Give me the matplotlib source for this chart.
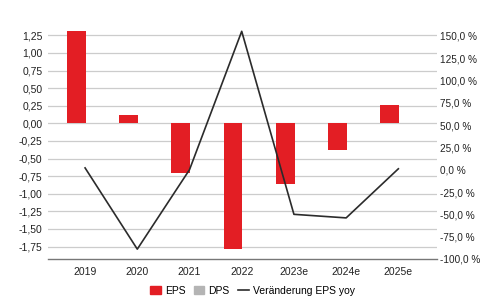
import numpy as np
import matplotlib.pyplot as plt
from matplotlib.lines import Line2D
from matplotlib.patches import Patch

plt.rcParams['font.family'] = ['Liberation Sans', 'DejaVu Sans']

# Data
years = ['2019', '2020', '2021', '2022', '2023e', '2024e', '2025e']
eps = [1.31, 0.12, -0.70, -1.79, -0.86, -0.38, 0.26]
dps = [0, 0, 0, 0, 0, 0, 0]
eps_yoy = [2, -89, 0, 155, -50, -54, 1]

left_ticks = [1.25, 1.00, 0.75, 0.50, 0.25, 0.00, -0.25, -0.50, -0.75,
              -1.00, -1.25, -1.50, -1.75]
right_ticks = [150, 125, 100, 75, 50, 25, 0, -25, -50, -75, -100]

red = '#e31e24'
grey = '#b4b4b4'
x = np.arange(len(years))

fig = plt.figure(figsize=(4.81, 2.98), dpi=100)
ax = fig.add_axes([0.0998, 0.131, 0.8087, 0.775])

ax.bar(x - 0.165, eps, width=0.36, color=red, zorder=2)
ax.bar(x + 0.2, dps, width=0.36, color=grey, zorder=2)

ax.set_xlim(-0.71, 6.74)
ax.set_ylim(-1.927, 1.354)
ax.set_yticks(left_ticks)
ax.set_yticklabels([f'{v:.2f}'.replace('.', ',') for v in left_ticks])
ax.yaxis.grid(True, color='#cccccc', linewidth=0.9, zorder=0)
ax.set_axisbelow(True)
ax.set_xticks(x)
ax.set_xticklabels(years)
ax.tick_params(axis='both', length=0, labelsize=7.5, colors='#222222')
ax.tick_params(axis='x', pad=5.5)
ax.tick_params(axis='y', pad=4)
for s in ['top', 'right', 'left']:
    ax.spines[s].set_visible(False)
ax.spines['bottom'].set_color('#777777')
ax.spines['bottom'].set_linewidth(1.0)

ax2 = ax.twinx()
ax2.plot(x, eps_yoy, color='#2b2b2b', linewidth=1.2, zorder=3)
ax2.set_ylim(-100, 158.7)
ax2.set_yticks(right_ticks)
ax2.set_yticklabels([f'{v:.1f} %'.replace('.', ',') for v in right_ticks])
ax2.tick_params(axis='y', length=0, labelsize=7.2, colors='#222222', pad=2)
for s in ['top', 'right', 'left', 'bottom']:
    ax2.spines[s].set_visible(False)

handles = [Patch(color=red), Patch(color=grey),
           Line2D([0], [0], color='#2b2b2b', linewidth=1.2)]
fig.legend(handles, ['EPS', 'DPS', 'Veränderung EPS yoy'],
           loc='center', bbox_to_anchor=(0.525, 0.025), ncol=3, frameon=False,
           fontsize=7.5, handlelength=1.0, handleheight=0.8, handletextpad=0.4,
           columnspacing=0.8)

fig.savefig('out.png', dpi=100)
